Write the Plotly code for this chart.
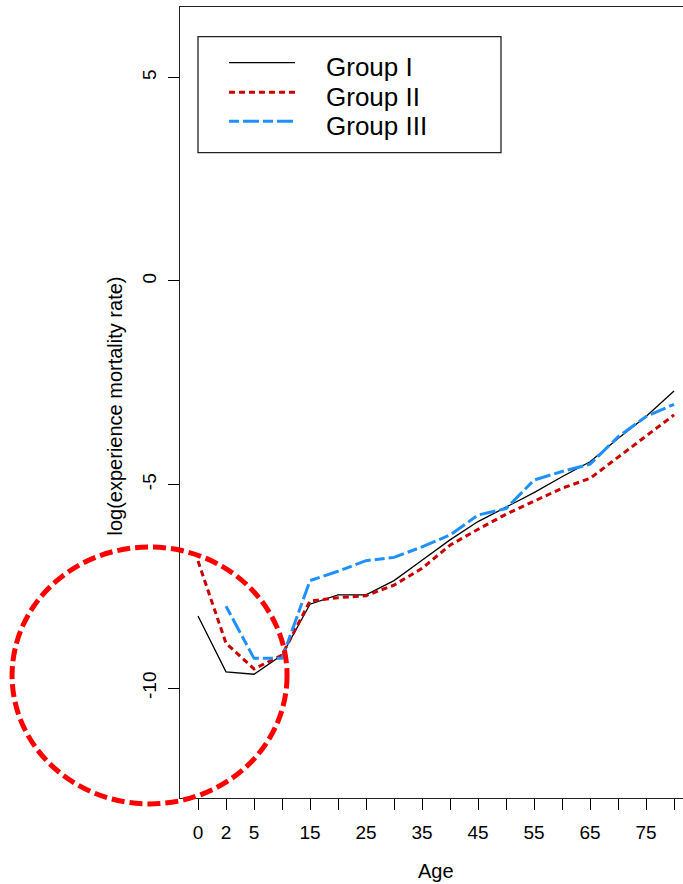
import plotly.graph_objects as go

# ---- data -------------------------------------------------------------
ages = [0, 2, 5, 10, 15, 20, 25, 30, 35, 40, 45, 50, 55, 60, 65, 70, 75, 80]
age_tick_text = ["0", "2", "5", "", "15", "", "25", "", "35", "", "45", "",
                 "55", "", "65", "", "75", ""]
group_names = ["Group I", "Group II", "Group III"]

log_rate_group1 = [-8.23, -9.60, -9.66, -9.19, -7.94, -7.71, -7.71, -7.36, -6.86,
                   -6.36, -5.91, -5.56, -5.20, -4.81, -4.44, -3.87, -3.33, -2.70]
log_rate_group2 = [-6.88, -8.90, -9.53, -9.19, -7.86, -7.78, -7.73, -7.47, -7.06,
                   -6.49, -6.10, -5.73, -5.41, -5.09, -4.85, -4.33, -3.83, -3.29]
log_rate_group3 = [None, -7.99, -9.27, -9.27, -7.36, -7.13, -6.87, -6.79, -6.53,
                   -6.24, -5.75, -5.59, -4.89, -4.68, -4.50, -3.83, -3.33, -3.03]

y_tick_vals = [-10, -5, 0, 5]
y_tick_text = ["-10", "-5", "0", "5"]

# ---- layout constants ---------------------------------------------------
W, H = 683, 884
M_L, M_R, M_T, M_B = 180, 0, 7, 86
X_RANGE = [-0.643, 17.32]
Y_RANGE = [-12.70, 6.73]
FONT = "Liberation Sans, Arial, Helvetica, sans-serif"

line_styles = [
    dict(color="black", width=1.3, dash="solid"),
    dict(color="#C80000", width=3, dash="6px,4px"),
    dict(color="#1E90FF", width=3, dash="10px,4px,16px,4px"),
]


def px_x(px):
    return (px - M_L) / (W - M_L - M_R)


def px_y(py):
    return (H - M_B - py) / (H - M_T - M_B)


def data_x(v):
    return (v - X_RANGE[0]) / (X_RANGE[1] - X_RANGE[0])


def data_y(v):
    return (v - Y_RANGE[0]) / (Y_RANGE[1] - Y_RANGE[0])


x_idx = list(range(len(ages)))
series = [log_rate_group1, log_rate_group2, log_rate_group3]

fig = go.Figure()
for name, vals, st in zip(group_names, series, line_styles):
    fig.add_trace(go.Scatter(
        x=x_idx, y=vals, name=name, mode="lines",
        line=st, connectgaps=False, showlegend=False,
    ))

shapes = []
annotations = []

# legend box drawn by hand (long line samples)
shapes.append(dict(type="rect", xref="paper", yref="paper",
                   x0=px_x(198), x1=px_x(501), y0=px_y(152.7), y1=px_y(36.7),
                   line=dict(color="#222222", width=1.3), fillcolor="white",
                   layer="above"))
row_y = [62.7, 92.3, 121.3]
for name, st, ry in zip(group_names, line_styles, row_y):
    shapes.append(dict(type="line", xref="paper", yref="paper",
                       x0=px_x(229), x1=px_x(295), y0=px_y(ry), y1=px_y(ry),
                       line=st, layer="above"))
    annotations.append(dict(text=name, xref="paper", yref="paper",
                            x=px_x(324), y=px_y(ry + 4.5),
                            xanchor="left", yanchor="middle", showarrow=False,
                            font=dict(family=FONT, size=26, color="black")))

# dashed highlight ellipse around the youngest ages
c_x, c_y = -1.73, -9.69
r_x, r_y = 4.91, 3.155
shapes.append(dict(type="circle", xref="paper", yref="paper",
                   x0=data_x(c_x - r_x), x1=data_x(c_x + r_x),
                   y0=data_y(c_y - r_y), y1=data_y(c_y + r_y),
                   line=dict(color="#FF0000", width=5, dash="13px,5px"),
                   layer="above"))

# axis titles
annotations.append(dict(text="Age", xref="paper", yref="paper",
                        x=px_x(435.5), y=px_y(871), xanchor="center", yanchor="middle",
                        showarrow=False, font=dict(family=FONT, size=20, color="black")))
annotations.append(dict(text="log(experience mortality rate)", xref="paper", yref="paper",
                        x=px_x(114), y=px_y(406.5), xanchor="center", yanchor="middle",
                        textangle=-90, showarrow=False,
                        font=dict(family=FONT, size=20, color="black")))

fig.update_layout(
    width=W, height=H,
    margin=dict(l=M_L, r=M_R, t=M_T, b=M_B, autoexpand=False),
    paper_bgcolor="white", plot_bgcolor="white",
    font=dict(family=FONT, size=19, color="black"),
    shapes=shapes, annotations=annotations,
    xaxis=dict(range=X_RANGE, tickmode="array", tickvals=x_idx, ticktext=age_tick_text,
               showgrid=False, zeroline=False, showline=True, mirror=True,
               linecolor="#222222", linewidth=1.3,
               ticks="outside", ticklen=11, tickwidth=1, tickcolor="black",
               ticklabelstandoff=6, tickangle=0,
               tickfont=dict(family=FONT, size=19, color="black")),
    yaxis=dict(range=Y_RANGE, tickmode="array", tickvals=y_tick_vals, ticktext=y_tick_text,
               showgrid=False, zeroline=False, showline=True, mirror=False,
               linecolor="#222222", linewidth=1.3,
               ticks="outside", ticklen=11, tickwidth=1, tickcolor="black",
               tickangle=-90, ticklabelstandoff=4,
               tickfont=dict(family=FONT, size=19, color="black")),
)

fig.write_html("out.html")
